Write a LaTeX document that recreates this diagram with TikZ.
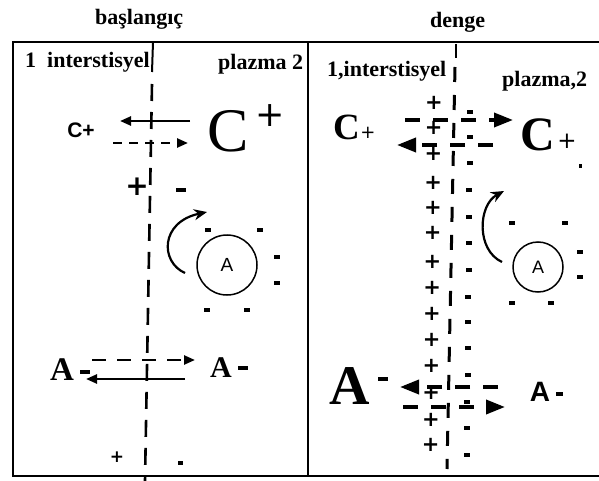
\documentclass[tikz,border=0pt]{standalone}
\usepackage{fontspec}
\setmainfont{Liberation Serif}
\newfontfamily\sgnfont{Liberation Sans}
\newfontfamily\plusfont{DejaVu Sans}
\usetikzlibrary{arrows.meta}

\begin{document}
\begin{tikzpicture}[x=1pt, y=-1pt,
  box/.style={line width=1.8pt},
  membrane/.style={line width=2.6pt, dash pattern=on 17pt off 11pt},
  membraneb/.style={line width=3pt, dash pattern=on 15pt off 13pt},
  lab/.style={font=\bfseries\fontsize{22}{24}\selectfont, inner sep=0pt, anchor=base west},
  big/.style={font=\fontsize{#1}{#1}\selectfont, inner sep=0pt},
  bigb/.style={font=\bfseries\fontsize{#1}{#1}\selectfont, inner sep=0pt},
  sans/.style={font=\sgnfont\fontsize{#1}{#1}\selectfont, inner sep=0pt},
  sansb/.style={font=\sgnfont\bfseries\fontsize{#1}{#1}\selectfont, inner sep=0pt},
  pos/.style={font=\plusfont\bfseries\fontsize{#1}{#1}\selectfont, inner sep=0pt},
  posl/.style={font=\plusfont\fontsize{#1}{#1}\selectfont, inner sep=0pt},
  neg/.style={fill=black, minimum width=#1, minimum height=3.2pt, inner sep=0pt},
  neg/.default=6pt,
  ion/.style={circle, draw, line width=1.5pt, minimum size=#1, inner sep=0pt},
  flux/.style={-{Triangle[length=11pt,width=9pt]}, line width=2.4pt},
  fluxd/.style={flux, dash pattern=on 9pt off 7pt},
  fluxdl/.style={flux, dash pattern=on 14pt off 11pt},
  fluxb/.style={-{Triangle[length=19pt,width=14pt]}, line width=3.6pt, dash pattern=on 15pt off 13pt},
  swing/.style={-{Stealth[length=13pt,width=11pt]}, line width=2.2pt}]

\useasboundingbox (0,0) rectangle (599,481);

% titles and frame
\node[lab] (t1) at (95,25) {başlangıç};
\node[lab] (t2) at (430,28) {denge};
\draw[box] (13,42) rectangle (308,476);
\draw[box] (308,42) -- (599,42) (308,476) -- (599,476);

% membranes
\coordinate (m1t) at (153,42);
\coordinate (m1s) at (152,72);
\coordinate (m1d) at (152,84);
\coordinate (m1b) at (145,481);
\draw[line width=2pt] (m1t) -- (m1s);
\draw[membrane] (m1d) -- (m1b);
\coordinate (m2t) at (456,44);
\coordinate (m2s) at (456,58);
\coordinate (m2d) at (455,67);
\coordinate (m2b) at (447,469);
\draw[line width=1.4pt] (m2t) -- (m2s);
\draw[membraneb] (m2d) -- (m2b);

% compartment labels
\node[lab] (l1) at (25,68) {1\enspace interstisyel};
\node[lab] (l2) at (218,70) {plazma 2};
\node[lab] (r1) at (327,77) {1,interstisyel};
\node[lab] (r2) at (502,87) {plazma,2};

% left panel: cations
\node[sansb=21] (ca) at (81,130) {C+};
\node[big=62] (cb) at (228,131) {C};
\node[posl=35] (cbp) at (270,116) {+};
\coordinate (a1s) at (190,121);
\coordinate (a1e) at (120,121);
\draw[flux] (a1s) -- (a1e);
\coordinate (a2s) at (113,143);
\coordinate (a2e) at (188,143);
\draw[fluxd] (a2s) -- (a2e);
\node[pos=28] (s1) at (137,187) {+};
\node[neg=10pt] (s2) at (181,190) {};

% left panel: protein anion
\node[ion=60pt, sans=19] (ia) at (227,265) {A};
\foreach \x/\y [count=\i] in {208/230,260/230,277/257,277/283,207/310,247/310}
  \node[neg] (na\i) at (\x,\y) {};
\coordinate (c1s) at (185,273);
\coordinate (c1e) at (207,212);
\draw[swing] (c1s) .. controls (160,262) and (160,222) .. (c1e);

% left panel: anions
\node[bigb=33] (al) at (62,370) {A};
\node[neg=10pt] (alm) at (85,372) {};
\node[bigb=30] (ar) at (221,368) {A};
\node[neg=10pt] (arm) at (243,368) {};
\coordinate (a3s) at (92,360);
\coordinate (a3e) at (195,360);
\draw[fluxdl] (a3s) -- (a3e);
\coordinate (a4s) at (185,379);
\coordinate (a4e) at (86,379);
\draw[flux] (a4s) -- (a4e);
\node[pos=17] (s3) at (117,457) {+};
\node[neg=5pt] (s4) at (180,463) {};

% right panel: charge layers
\foreach \y [count=\i] in {103,128,154,183,208,233,262,288,314,340,366,393,420,445}
  \node[pos=21] (pp\i) at ({434-(\y-103)*0.01},\y) {+};
\foreach \y [count=\i] in {112,137,163,190,217,243,270,297,322,348,375,402,428,455}
  \node[neg] (pm\i) at ({470-(\y-112)*0.009},\y) {};

% right panel: cations
\node[bigb=37] (cc) at (347,127) {C};
\node[posl=18] (ccp) at (368,133) {+};
\node[bigb=48] (cd) at (538,135) {C};
\node[posl=23] (cdp) at (567,141) {+};
\node[neg=3pt] (dot) at (580,166) {};
\coordinate (b1s) at (405,120);
\coordinate (b1e) at (513,120);
\draw[fluxb] (b1s) -- (b1e);
\coordinate (b2s) at (493,145);
\coordinate (b2e) at (397,145);
\draw[fluxb] (b2s) -- (b2e);

% right panel: protein anion
\node[ion=50pt, sans=18] (ib) at (538,267) {A};
\foreach \x/\y [count=\i] in {512/223,565/223,580/252,580/277,512/303,551/303}
  \node[neg] (nb\i) at (\x,\y) {};
\coordinate (c2s) at (502,262);
\coordinate (c2e) at (504,191);
\draw[swing] (c2s) .. controls (476,250) and (478,205) .. (c2e);

% right panel: anions
\node[bigb=56] (ad) at (350,386) {A};
\node[neg=10pt] (adm) at (383,379) {};
\node[sansb=28] (ae) at (540,392) {A};
\node[neg=7pt] (aem) at (559,394) {};
\coordinate (b3s) at (498,387);
\coordinate (b3e) at (400,387);
\draw[fluxb] (b3s) -- (b3e);
\coordinate (b4s) at (403,407);
\coordinate (b4e) at (505,407);
\draw[fluxb] (b4s) -- (b4e);
\end{tikzpicture}
\end{document}
